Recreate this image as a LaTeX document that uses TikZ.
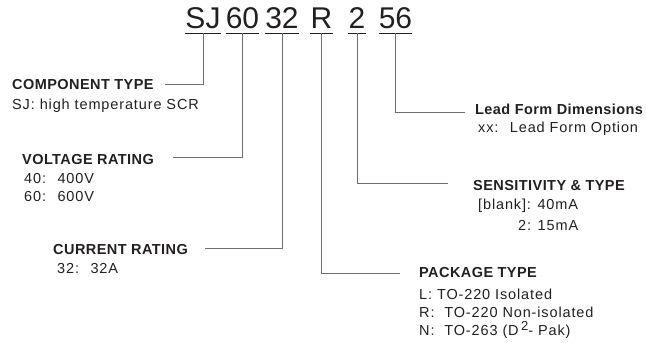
\documentclass[tikz,border=0pt]{standalone}
\usepackage{fontspec}
\setmainfont{Liberation Sans}
\newfontfamily\regfont[LetterSpace=6]{Liberation Sans}
\newfontfamily\hdfont[LetterSpace=3]{Liberation Sans}
\definecolor{inkc}{HTML}{231F20}
\definecolor{linec}{HTML}{6D6E71}
\begin{document}
\begin{tikzpicture}[x=1pt,y=-1pt,
  code/.style={font=\fontsize{30}{30}\selectfont, text=inkc, inner xsep=0pt, inner ysep=0pt, text height=22pt, text depth=5pt, anchor=base},
  head/.style={font=\hdfont\bfseries\fontsize{14.5}{16}\selectfont, text=inkc, inner sep=0pt, anchor=base west},
  body/.style={font=\regfont\fontsize{14.5}{16}\selectfont, text=inkc, inner sep=0pt, anchor=base west},
  uline/.style={draw=inkc, line width=1.1pt},
  conn/.style={draw=linec, line width=0.9pt}]
\useasboundingbox (0,0) rectangle (646,343);
% part-number groups
\node[code] (sj) at (203,28) {SJ};
\node[code] (v60) at (242.5,28) {60};
\node[code] (c32) at (282,28) {32};
\node[code] (pr) at (321.5,28) {R};
\node[code] (s2) at (357,28) {2};
\node[code] (l56) at (395.5,28) {56};
\foreach \n in {sj,v60,c32,pr,s2,l56}{\draw[uline] (\n.south west) -- (\n.south east);}
% labels
\node[head] (ct) at (12,89) {COMPONENT TYPE};
\node[body] (ct1) at (12,109) {SJ: high temperature SCR};
\node[head] (vr) at (22,164) {VOLTAGE RATING};
\node[body] (vr1) at (24,183) {40:~ 400V};
\node[body] (vr2) at (24,201) {60:~ 600V};
\node[head] (cr) at (53,254) {CURRENT RATING};
\node[body] (cr1) at (57,273) {32:~ 32A};
\node[head] (lf) at (475,114.5) {Lead Form Dimensions};
\node[body] (lf1) at (478,132.5) {xx:~ Lead Form Option};
\node[head] (st) at (473,190) {SENSITIVITY \& TYPE};
\node[body] (st1) at (478,209) {[blank]: 40mA};
\node[body] (st2) at (518,230) {2: 15mA};
\node[head] (pt) at (419,277) {PACKAGE TYPE};
\node[body] (pt1) at (419,299) {L: TO-220 Isolated};
\node[body] (pt2) at (419,317) {R:~ TO-220 Non-isolated};
\node[body] (pt3) at (419,335) {N:~ TO-263 (D\,\raisebox{4.5pt}{\fontsize{13}{13}\selectfont 2}- Pak)};
% connector ends
\coordinate (ctend) at (165,84);
\coordinate (vrend) at (173,157);
\coordinate (crend) at (205,248);
\coordinate (lfend) at (465,112);
\coordinate (stend) at (448,183);
\coordinate (ptend) at (400,273);
\draw[conn] (sj.south) |- (ctend);
\draw[conn] (v60.south) |- (vrend);
\draw[conn] (c32.south) |- (crend);
\draw[conn] (pr.south) |- (ptend);
\draw[conn] (s2.south) |- (stend);
\draw[conn] (l56.south) |- (lfend);
\end{tikzpicture}
\end{document}
